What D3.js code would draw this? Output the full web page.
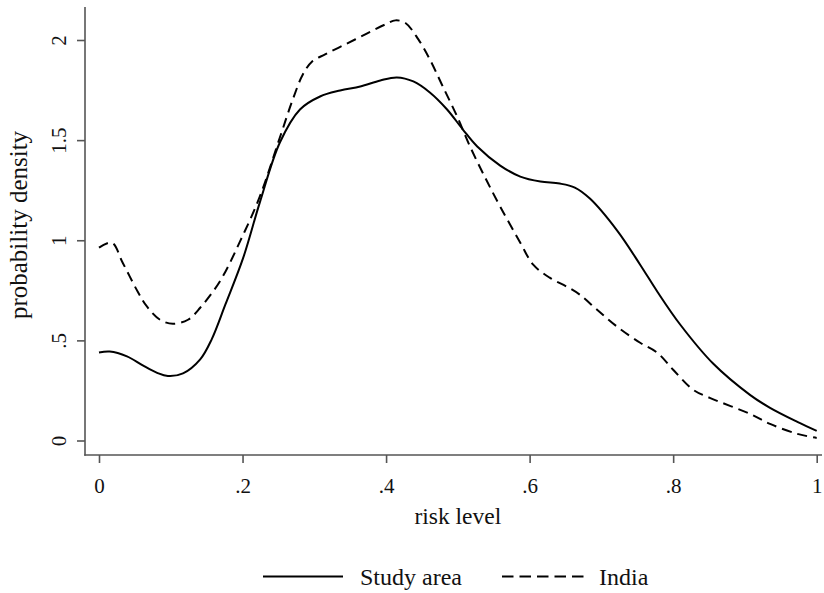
<!DOCTYPE html>
<html>
<head>
<meta charset="utf-8">
<script src="https://cdn.jsdelivr.net/npm/d3@7"></script>
<style>
  html, body { margin: 0; padding: 0; background: #fff; }
  svg { display: block; font-family: "Liberation Serif", "Times New Roman", serif; }
</style>
</head>
<body>
<svg id="chart" width="824" height="593"></svg>
<script>
// Kernel density estimates of risk level
const riskStudy = [0, 0.015, 0.039, 0.061, 0.081, 0.096, 0.117, 0.141, 0.157, 0.176, 0.201, 0.224, 0.252, 0.280, 0.308, 0.336, 0.364, 0.392, 0.415, 0.438, 0.461, 0.485, 0.507, 0.527, 0.559, 0.587, 0.615, 0.642, 0.663, 0.684, 0.722, 0.754, 0.778, 0.810, 0.856, 0.907, 0.935, 0.973, 1.0];
const densityStudy = [0.439, 0.444, 0.420, 0.375, 0.338, 0.322, 0.335, 0.405, 0.505, 0.678, 0.913, 1.188, 1.488, 1.653, 1.718, 1.748, 1.768, 1.798, 1.813, 1.793, 1.738, 1.653, 1.553, 1.468, 1.373, 1.318, 1.293, 1.283, 1.263, 1.208, 1.048, 0.878, 0.743, 0.578, 0.383, 0.228, 0.163, 0.093, 0.048];

const riskIndia = [0, 0.018, 0.033, 0.054, 0.067, 0.085, 0.103, 0.124, 0.141, 0.169, 0.197, 0.224, 0.252, 0.270, 0.284, 0.297, 0.315, 0.343, 0.371, 0.399, 0.413, 0.427, 0.445, 0.461, 0.479, 0.499, 0.517, 0.538, 0.559, 0.587, 0.605, 0.628, 0.652, 0.670, 0.694, 0.722, 0.754, 0.778, 0.800, 0.828, 0.851, 0.907, 0.935, 0.973, 1.0];
const densityIndia = [0.963, 0.988, 0.888, 0.743, 0.668, 0.603, 0.583, 0.603, 0.663, 0.798, 0.998, 1.218, 1.513, 1.703, 1.828, 1.893, 1.928, 1.978, 2.028, 2.078, 2.098, 2.085, 2.003, 1.903, 1.768, 1.618, 1.468, 1.313, 1.168, 0.988, 0.878, 0.813, 0.768, 0.728, 0.653, 0.568, 0.488, 0.438, 0.353, 0.253, 0.213, 0.133, 0.083, 0.033, 0.013];

const xTicks = [0, 0.2, 0.4, 0.6, 0.8, 1];
const xTickLabels = ["0", ".2", ".4", ".6", ".8", "1"];
const yTicks = [0, 0.5, 1, 1.5, 2];
const yTickLabels = ["0", ".5", "1", "1.5", "2"];

const seriesNames = ["Study area", "India"];

const svg = d3.select("#chart");

const x = d3.scaleLinear().domain([0, 1]).range([99, 816.7]);
const y = d3.scaleLinear().domain([0, 2]).range([440.5, 40]);

const axisColor = "#555";

// axis frame lines (left and bottom)
const axisLeftX = 85, axisTopY = 7, axisBottomY = 455, axisRightX = 822;
svg.append("line")
  .attr("x1", axisLeftX).attr("x2", axisLeftX)
  .attr("y1", axisTopY).attr("y2", axisBottomY + 0.75)
  .attr("stroke", axisColor).attr("stroke-width", 1.6);
svg.append("line")
  .attr("x1", axisLeftX - 0.75).attr("x2", axisRightX)
  .attr("y1", axisBottomY).attr("y2", axisBottomY)
  .attr("stroke", axisColor).attr("stroke-width", 1.6);

// y axis ticks and labels
const yAxis = d3.axisLeft(y)
  .tickValues(yTicks)
  .tickFormat((d, i) => yTickLabels[i])
  .tickSize(8)
  .tickSizeOuter(0);
const gy = svg.append("g").attr("transform", `translate(${axisLeftX},0)`).call(yAxis);
gy.select(".domain").remove();
gy.selectAll(".tick line").attr("stroke", axisColor).attr("stroke-width", 1.6);
gy.selectAll(".tick text")
  .attr("x", null).attr("dy", null)
  .attr("transform", "translate(-19,0) rotate(-90)")
  .attr("text-anchor", "middle")
  .attr("fill", "#111")
  .style("font-size", "21px")
  .style("font-family", "Liberation Serif, serif");

// x axis ticks and labels
const xAxis = d3.axisBottom(x)
  .tickValues(xTicks)
  .tickFormat((d, i) => xTickLabels[i])
  .tickSize(8)
  .tickSizeOuter(0);
const gx = svg.append("g").attr("transform", `translate(0,${axisBottomY})`).call(xAxis);
gx.select(".domain").remove();
gx.selectAll(".tick line").attr("stroke", axisColor).attr("stroke-width", 1.6);
gx.selectAll(".tick text")
  .attr("y", 38).attr("dy", null)
  .attr("fill", "#111")
  .style("font-size", "21px")
  .style("font-family", "Liberation Serif, serif");

// axis titles
svg.append("text")
  .attr("x", (x.range()[0] + x.range()[1]) / 2)
  .attr("y", 524)
  .attr("text-anchor", "middle")
  .attr("fill", "#111")
  .style("font-size", "23.5px")
  .text("risk level");

svg.append("text")
  .attr("transform", "translate(27,225) rotate(-90)")
  .attr("text-anchor", "middle")
  .attr("fill", "#111")
  .style("font-size", "25px")
  .text("probability density");

// density curves
const line = d3.line()
  .x(d => x(d[0]))
  .y(d => y(d[1]))
  .curve(d3.curveCatmullRom.alpha(0.5));

const studyData = riskStudy.map((r, i) => [r, densityStudy[i]]);
const indiaData = riskIndia.map((r, i) => [r, densityIndia[i]]);

svg.append("path")
  .datum(indiaData)
  .attr("d", line)
  .attr("fill", "none")
  .attr("stroke", "#000")
  .attr("stroke-width", 2)
  .attr("stroke-dasharray", "10,6");

svg.append("path")
  .datum(studyData)
  .attr("d", line)
  .attr("fill", "none")
  .attr("stroke", "#000")
  .attr("stroke-width", 2);

// legend
const legend = svg.append("g");
const legendItems = [
  { name: seriesNames[0], x1: 263, x2: 343, tx: 360, dash: null },
  { name: seriesNames[1], x1: 502, x2: 584, tx: 599, dash: "11.5,6" }
];
legendItems.forEach(item => {
  legend.append("line")
    .attr("x1", item.x1).attr("x2", item.x2)
    .attr("y1", 576.5).attr("y2", 576.5)
    .attr("stroke", "#000").attr("stroke-width", 2)
    .attr("stroke-dasharray", item.dash);
  legend.append("text")
    .attr("x", item.tx).attr("y", 585)
    .attr("fill", "#111")
    .style("font-size", "24px")
    .text(item.name);
});
</script>
</body>
</html>
